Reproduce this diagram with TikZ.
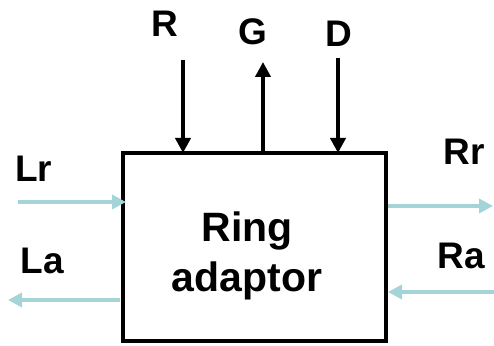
\documentclass[tikz,border=0pt]{standalone}
\usepackage{fontspec}
\setmainfont{Liberation Sans}
\usepackage{xcolor}
\usepackage{tikz}
\usetikzlibrary{arrows.meta,calc}

\definecolor{linkblue}{RGB}{164,212,216}

\begin{document}
\begin{tikzpicture}[x=1pt,y=1pt,
  sig/.style={line width=4pt, -{Triangle[length=15pt,width=15pt]}},
  link/.style={line width=4pt, linkblue, -{Triangle[length=14pt,width=14pt]}},
  lbl/.style={font=\fontsize{37}{40}\selectfont\bfseries, anchor=base, inner sep=0pt}]
\useasboundingbox (0,0) rectangle (494,345);
% box
\node[draw, line width=4pt, inner sep=0pt, outer sep=0pt, minimum width=263pt, minimum height=188pt] (adaptor) at (254.5,98) {};
\node[font=\fontsize{41}{50}\selectfont\bfseries, align=center, inner sep=0pt] (name) at (247,89) {Ring\\adaptor};
% control lines on top
\coordinate (rin) at (183,285);
\coordinate (gout) at (263,283);
\coordinate (din) at (338,287);
\draw[sig] (rin) -- (rin |- adaptor.north);
\draw[sig] (gout |- adaptor.north) -- (gout);
\draw[sig] (din) -- (din |- adaptor.north);
\node[lbl] (lblR) at (164.5,308) {R};
\node[lbl] (lblG) at (252.5,300) {G};
\node[lbl] (lblD) at (338.5,298) {D};
% ring links, left side
\coordinate (lrin) at (18,143);
\coordinate (laout) at (8,45);
\draw[link] (lrin) -- ($(lrin -| adaptor.west)+(3,0)$);
\draw[link] ($(laout -| adaptor.west)+(-3,0)$) -- (laout);
\node[lbl] (lblLr) at (33.5,163) {Lr};
\node[lbl] (lblLa) at (42.5,72) {La};
% ring links, right side
\coordinate (rrout) at (493,139);
\coordinate (rain) at (494,53);
\draw[link] ($(rrout -| adaptor.east)+(2,0)$) -- (rrout);
\draw[link] (rain) -- ($(rain -| adaptor.east)+(2,0)$);
\node[lbl] (lblRr) at (464.5,180) {Rr};
\node[lbl] (lblRa) at (461.5,77) {Ra};
\end{tikzpicture}
\end{document}
